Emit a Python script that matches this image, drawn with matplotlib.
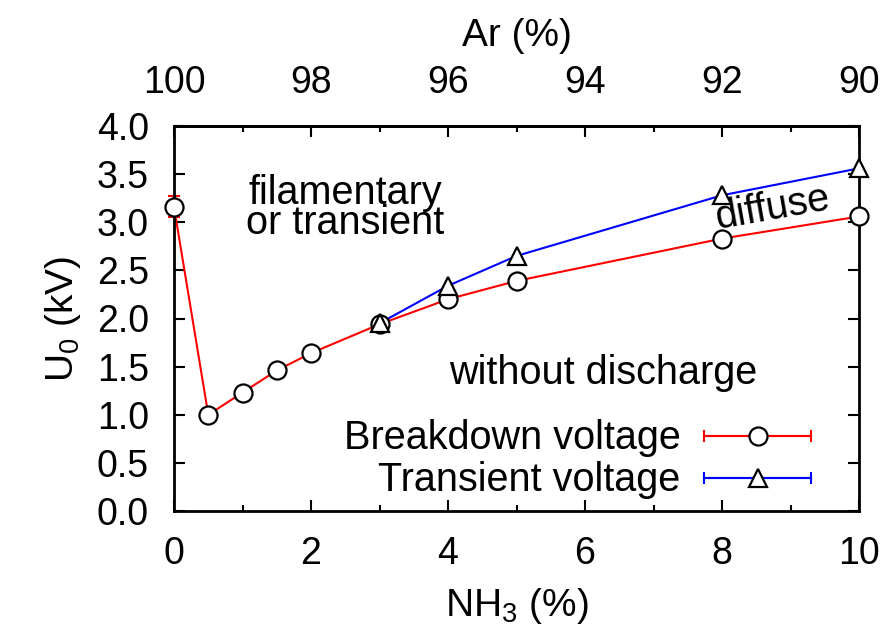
import numpy as np
import matplotlib
matplotlib.use("Agg")
import matplotlib.pyplot as plt
from matplotlib.lines import Line2D
from matplotlib.legend_handler import HandlerLine2D, HandlerTuple
from matplotlib.ticker import MultipleLocator, FormatStrFormatter

plt.rcParams['font.family'] = ['Liberation Sans', 'DejaVu Sans']
plt.rcParams['mathtext.fontset'] = 'custom'
plt.rcParams['mathtext.rm'] = 'Liberation Sans'
plt.rcParams['font.size'] = 27

# NH3 content (%) and voltages (kV)
nh3_break = [0, 0.5, 1, 1.5, 2, 3, 4, 5, 8, 10]
u_break = [3.16, 1.00, 1.23, 1.46, 1.64, 1.94, 2.20, 2.39, 2.83, 3.06]
err_break = [0.11, 0, 0, 0, 0, 0, 0, 0, 0, 0]

nh3_trans = [3, 4, 5, 8, 10]
u_trans = [1.95, 2.34, 2.65, 3.28, 3.56]

fig = plt.figure(figsize=(8.9, 6.35), dpi=100)
ax = fig.add_axes([174/890, 1 - 511/635, 685/890, 385/635])

ax.errorbar(nh3_break, u_break, yerr=err_break, color='red', lw=1.5,
            capsize=4, capthick=1.5, zorder=2, clip_on=False)
ax.plot(nh3_break, u_break, 'o', ms=13, mfc='white', mec='black', mew=1.6,
        zorder=4, clip_on=False)
ax.plot(nh3_trans, u_trans, '-', color='blue', lw=1.5, zorder=3)
ax.plot(nh3_trans, u_trans, '^', ms=13, mfc='white', mec='black', mew=1.6,
        zorder=5, clip_on=False)

ax.set_xlim(0, 10)
ax.set_ylim(0, 4)
ax.xaxis.set_major_locator(MultipleLocator(2))
ax.xaxis.set_minor_locator(MultipleLocator(1))
ax.yaxis.set_major_locator(MultipleLocator(0.5))
ax.yaxis.set_major_formatter(FormatStrFormatter('%.1f'))
ax.tick_params(which='both', direction='in', right=True, width=1.5, pad=18)
ax.tick_params(axis='x', which='both', top=False)
ax.tick_params(which='major', length=8)
ax.tick_params(which='minor', length=4)
for s in ax.spines.values():
    s.set_linewidth(2)

ax.set_xlabel('NH$_\\mathregular{3}$ (%)', labelpad=10, fontsize=28)
ax.set_ylabel('U$_\\mathregular{0}$ (kV)', labelpad=10, fontsize=28)

top = ax.secondary_xaxis('top', functions=(lambda x: 100 - x, lambda a: 100 - a))
top.set_xticks([100, 98, 96, 94, 92, 90])
top.xaxis.set_minor_locator(MultipleLocator(1))
top.tick_params(which='both', direction='in', width=1.5, pad=18)
top.tick_params(which='major', length=8)
top.tick_params(which='minor', length=4)
top.spines['top'].set_linewidth(2)
top.set_xlabel('Ar (%)', labelpad=14, fontsize=28)

ax.text(2.5, 3.15, 'filamentary\nor transient', ha='center', va='center',
        linespacing=0.75, fontsize=28.5)
ax.text(8.74, 3.15, 'diffuse', ha='center', va='center', rotation=10,
        fontsize=28.5)
ax.text(6.26, 1.43, 'without discharge', ha='center', va='center',
        fontsize=28.5)

# legend samples with error-bar caps
h1 = Line2D([], [], color='red', lw=1.5, marker='o', ms=13, mfc='white',
            mec='black', mew=1.6)
c1 = Line2D([], [], color='red', lw=1.5, marker='|', ms=8, mew=1.5, mec='red')
h2 = Line2D([], [], color='blue', lw=1.5, marker='^', ms=13, mfc='white',
            mec='black', mew=1.6)
c2 = Line2D([], [], color='blue', lw=1.5, marker='|', ms=8, mew=1.5, mec='blue')
hmap = {c1: HandlerLine2D(numpoints=2, marker_pad=0),
        c2: HandlerLine2D(numpoints=2, marker_pad=0),
        h1: HandlerLine2D(numpoints=1), h2: HandlerLine2D(numpoints=1),
        tuple: HandlerTuple(ndivide=1)}
ax.legend([(c1, h1), (c2, h2)], ['Breakdown voltage', 'Transient voltage'],
          handler_map=hmap, loc='lower right', bbox_to_anchor=(0.93, 0.03),
          frameon=False, markerfirst=False, handlelength=2.7,
          handletextpad=0.6, labelspacing=0.1, borderpad=0, borderaxespad=0,
          fontsize=28.5)

fig.savefig('out.png', dpi=100)
